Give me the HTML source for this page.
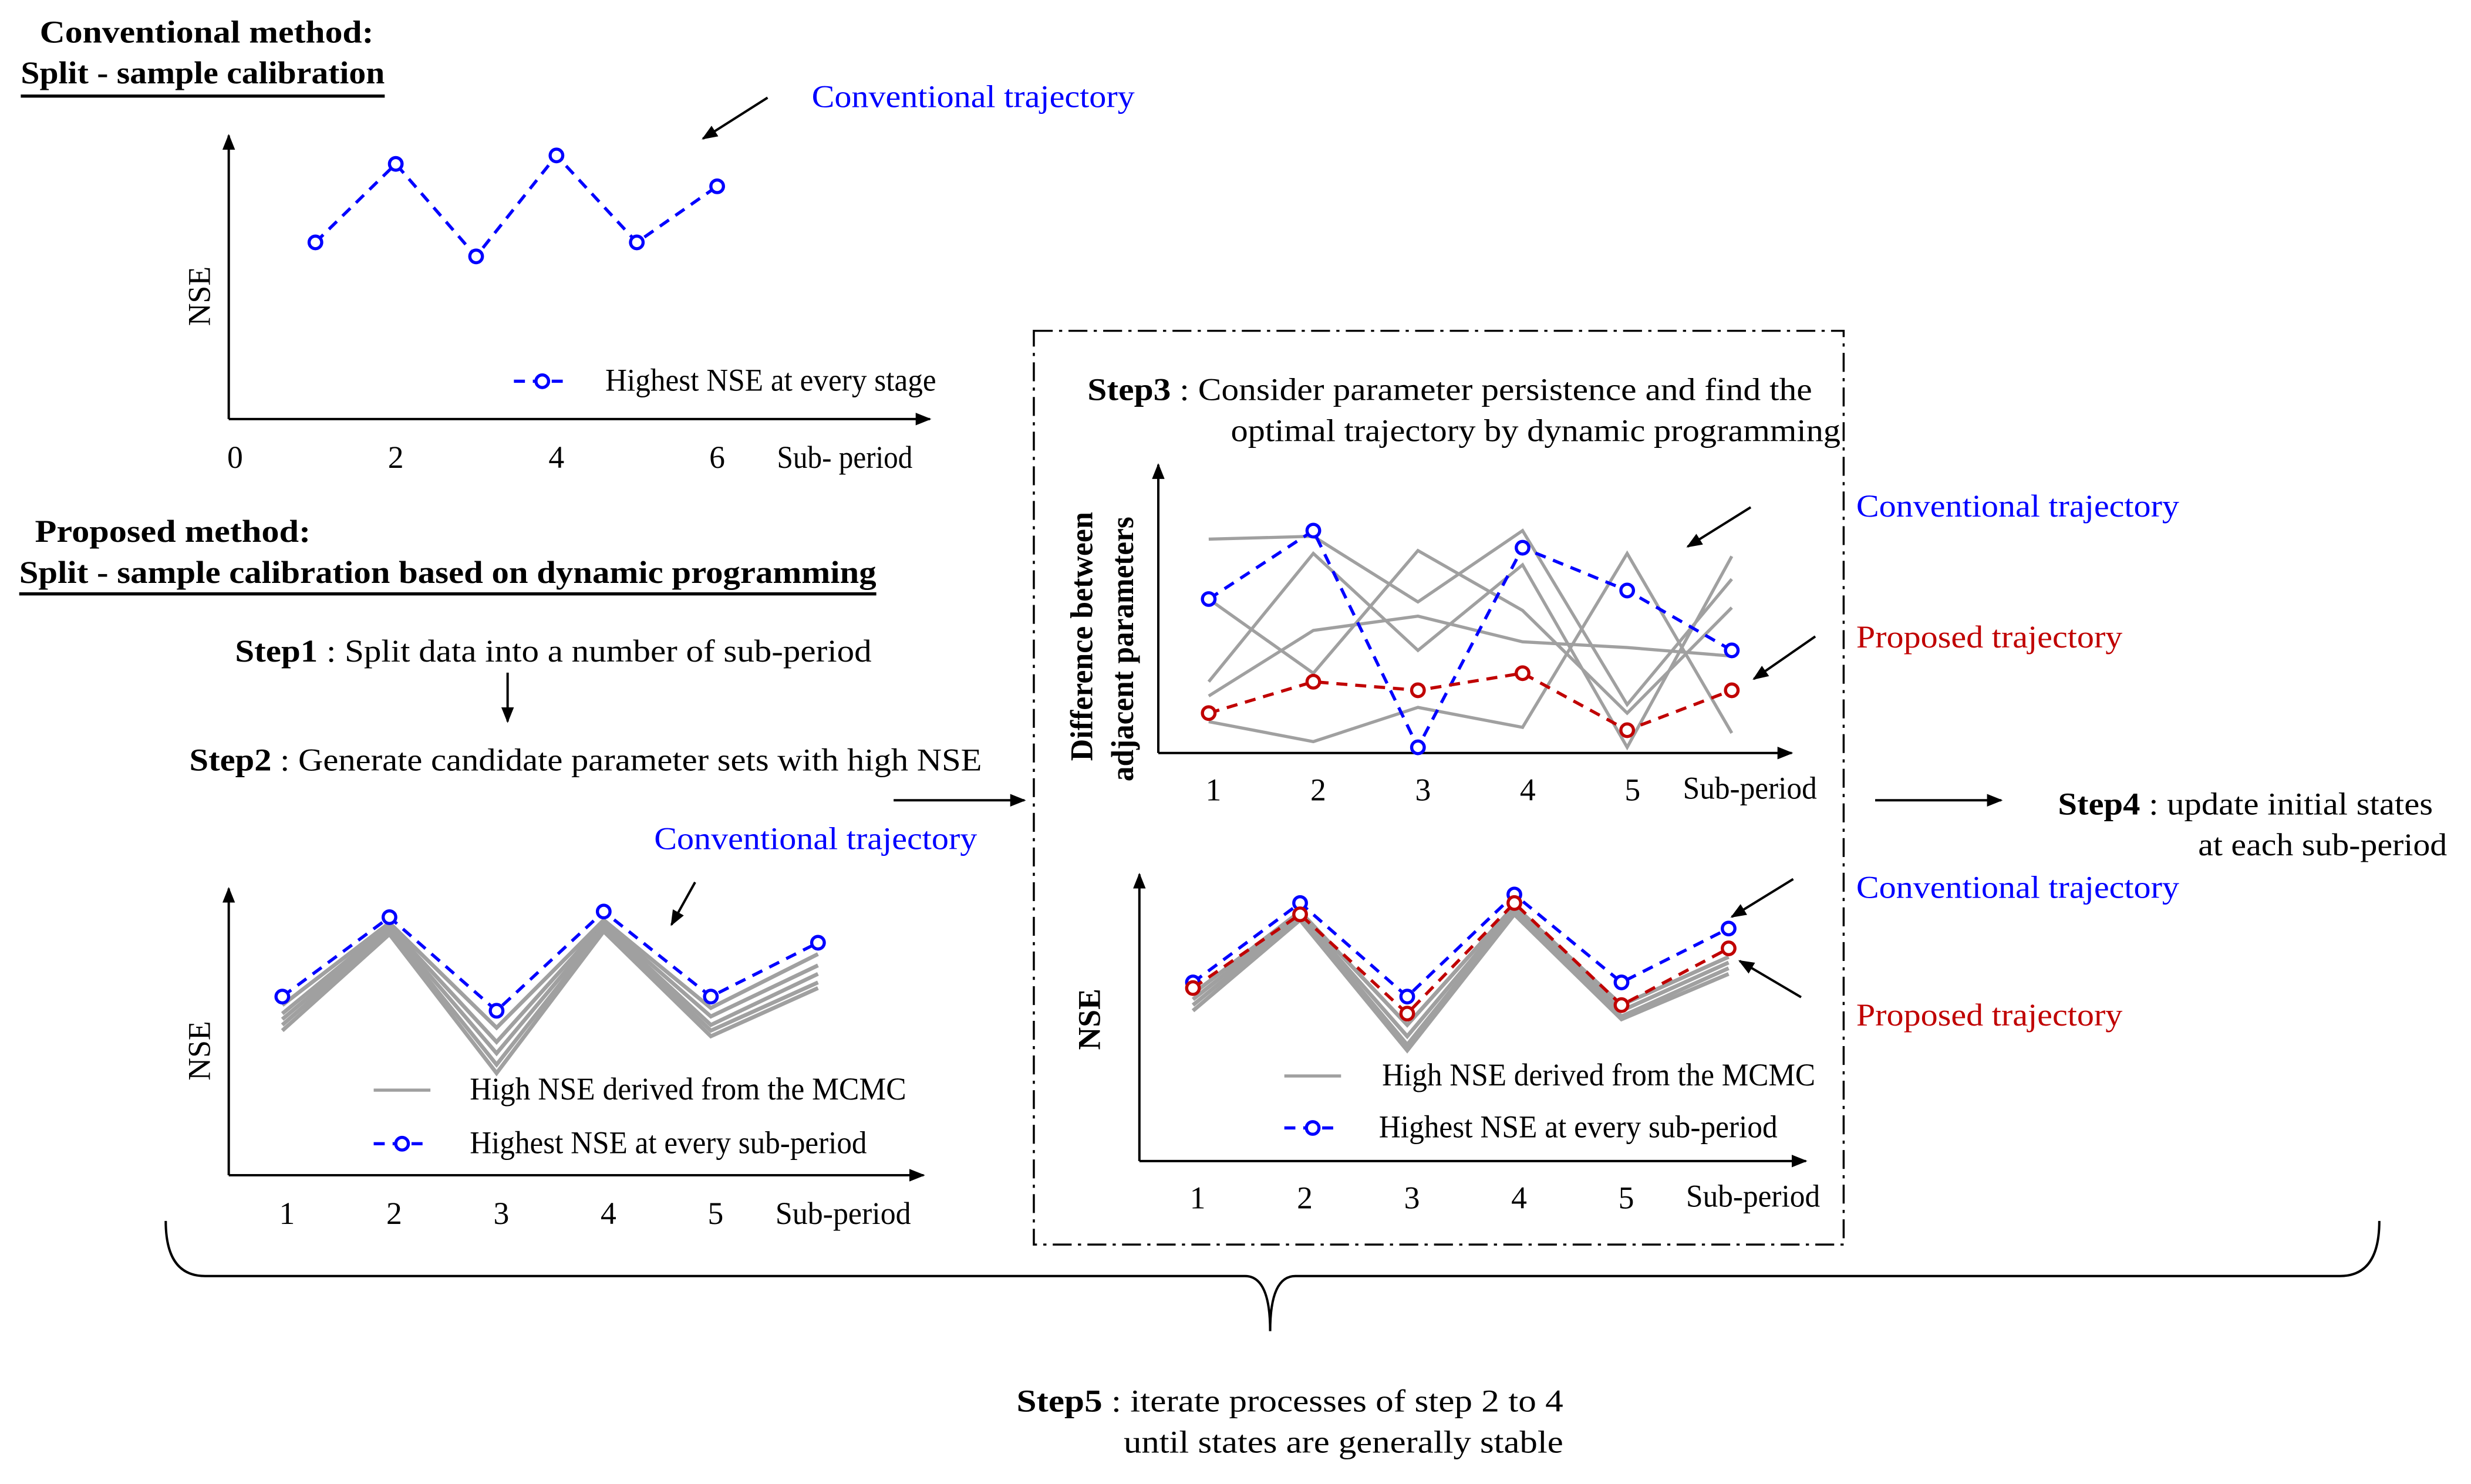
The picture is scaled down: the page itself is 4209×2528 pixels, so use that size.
<!DOCTYPE html>
<html><head><meta charset="utf-8"><style>
html,body{margin:0;padding:0;background:#fff;}
svg{display:block;}
text{font-family:"Liberation Serif",serif;font-size:20px;}
.b{font-weight:bold;}
</style></head><body>
<svg id="fig" width="4209" height="2528" viewBox="0 0 1568 942" xmlns="http://www.w3.org/2000/svg">
<defs>
<marker id="ah" markerWidth="10" markerHeight="8" refX="9" refY="4" orient="auto" markerUnits="userSpaceOnUse"><path d="M0,0 L10,4 L0,8 Z" fill="#000"/></marker>
</defs>
<rect width="1568" height="942" fill="#fff"/>
<text class="b" x="25" y="27" textLength="212" lengthAdjust="spacingAndGlyphs">Conventional  method:</text>
<text class="b" x="13" y="53" textLength="231" lengthAdjust="spacingAndGlyphs">Split - sample calibration</text>
<line x1="13" y1="61" x2="244" y2="61" stroke="#000" stroke-width="2"/>
<text x="515" y="68" fill="#0000ff" textLength="205" lengthAdjust="spacingAndGlyphs">Conventional trajectory</text>
<line x1="487" y1="62" x2="446" y2="88" stroke="#000" stroke-width="1.5" marker-end="url(#ah)"/>
<text class="b" x="22" y="344" textLength="175" lengthAdjust="spacingAndGlyphs">Proposed  method:</text>
<text class="b" x="12" y="370" textLength="544" lengthAdjust="spacingAndGlyphs">Split -  sample calibration based on dynamic programming</text>
<line x1="12" y1="377" x2="556" y2="377" stroke="#000" stroke-width="2"/>
<text x="149" y="420" textLength="404" lengthAdjust="spacingAndGlyphs"><tspan class="b">Step1</tspan>   : Split data into a number of sub-period</text>
<line x1="322" y1="427" x2="322" y2="458" stroke="#000" stroke-width="1.5" marker-end="url(#ah)"/>
<text x="120" y="489" textLength="503" lengthAdjust="spacingAndGlyphs"><tspan class="b">Step2</tspan> : Generate candidate parameter sets with high NSE</text>
<text x="415" y="539" fill="#0000ff" textLength="205" lengthAdjust="spacingAndGlyphs">Conventional trajectory</text>
<line x1="441" y1="560" x2="426" y2="587" stroke="#000" stroke-width="1.5" marker-end="url(#ah)"/>
<line x1="567" y1="508" x2="650" y2="508" stroke="#000" stroke-width="1.5" marker-end="url(#ah)"/>
<rect x="656" y="210" width="514" height="580" fill="none" stroke="#000" stroke-width="1.3" stroke-dasharray="12,4,2,4"/>
<text x="690" y="254" textLength="460" lengthAdjust="spacingAndGlyphs"><tspan class="b">Step3</tspan>  : Consider parameter persistence and find the</text>
<text x="781" y="280" textLength="387" lengthAdjust="spacingAndGlyphs">optimal trajectory by dynamic programming</text>
<text class="b" transform="translate(693,404) rotate(-90)" text-anchor="middle" font-size="18" textLength="158" lengthAdjust="spacingAndGlyphs">Difference between</text>
<text class="b" transform="translate(719,412) rotate(-90)" text-anchor="middle" font-size="18" textLength="168" lengthAdjust="spacingAndGlyphs">adjacent parameters</text>
<line x1="1111" y1="322" x2="1071" y2="347" stroke="#000" stroke-width="1.5" marker-end="url(#ah)"/>
<line x1="1152" y1="404" x2="1113" y2="431" stroke="#000" stroke-width="1.5" marker-end="url(#ah)"/>
<text x="1178" y="328" fill="#0000ff" textLength="205" lengthAdjust="spacingAndGlyphs">Conventional trajectory</text>
<text x="1178" y="411" fill="#c00000" textLength="169" lengthAdjust="spacingAndGlyphs">Proposed trajectory</text>
<line x1="1138" y1="558" x2="1099" y2="582" stroke="#000" stroke-width="1.5" marker-end="url(#ah)"/>
<line x1="1143" y1="633" x2="1104" y2="610" stroke="#000" stroke-width="1.5" marker-end="url(#ah)"/>
<text x="1178" y="570" fill="#0000ff" textLength="205" lengthAdjust="spacingAndGlyphs">Conventional trajectory</text>
<text x="1178" y="651" fill="#c00000" textLength="169" lengthAdjust="spacingAndGlyphs">Proposed trajectory</text>
<line x1="1190" y1="508" x2="1270" y2="508" stroke="#000" stroke-width="1.5" marker-end="url(#ah)"/>
<text x="1306" y="517" textLength="238" lengthAdjust="spacingAndGlyphs"><tspan class="b">Step4</tspan> : update initial states</text>
<text x="1395" y="543" textLength="158" lengthAdjust="spacingAndGlyphs">at each sub-period</text>
<path d="M105,775 Q105,810 130,810 L790,810 Q806,810 806,845 Q806,810 822,810 L1485,810 Q1510,810 1510,775" fill="none" stroke="#000" stroke-width="1.5"/>
<text x="645" y="896" textLength="347" lengthAdjust="spacingAndGlyphs"><tspan class="b">Step5</tspan>    : iterate processes of step 2 to  4</text>
<text x="713" y="922" textLength="279" lengthAdjust="spacingAndGlyphs">until   states are generally stable</text>
<g id="charts"></g>
</svg>
<script>
// Chart A: conventional (top-left)
const aX = [1, 2, 3, 4, 5, 6];
const aBlue = [0.63, 0.91, 0.58, 0.94, 0.63, 0.83];
const aTicks = ["0", "2", "4", "6"];
const aTickVals = [0, 2, 4, 6];
// Chart B: proposed candidates (bottom-left)
const bX = [1, 2, 3, 4, 5, 6];
const bTicks = ["1", "2", "3", "4", "5"];
const bBlue = [0.63, 0.91, 0.58, 0.93, 0.63, 0.82];
const bGray1 = [0.60, 0.89, 0.52, 0.90, 0.59, 0.78];
const bGray2 = [0.57, 0.88, 0.47, 0.89, 0.56, 0.74];
const bGray3 = [0.55, 0.87, 0.43, 0.88, 0.53, 0.71];
const bGray4 = [0.53, 0.86, 0.39, 0.87, 0.51, 0.68];
const bGray5 = [0.51, 0.85, 0.36, 0.86, 0.49, 0.66];
// Chart C: differences (middle)
const cX = [1, 2, 3, 4, 5, 6];
const cTicks = ["1", "2", "3", "4", "5"];
const cBlue = [0.54, 0.78, 0.02, 0.72, 0.57, 0.36];
const cRed = [0.14, 0.25, 0.22, 0.28, 0.08, 0.22];
const cGray1 = [0.75, 0.76, 0.53, 0.78, 0.17, 0.61];
const cGray2 = [0.54, 0.28, 0.71, 0.50, 0.14, 0.51];
const cGray3 = [0.25, 0.70, 0.36, 0.66, 0.02, 0.69];
const cGray4 = [0.20, 0.43, 0.48, 0.39, 0.37, 0.34];
const cGray5 = [0.11, 0.04, 0.16, 0.09, 0.70, 0.07];
// Chart D: NSE comparison (bottom-middle)
const dX = [1, 2, 3, 4, 5, 6];
const dTicks = ["1", "2", "3", "4", "5"];
const dBlue = [0.63, 0.91, 0.58, 0.94, 0.63, 0.82];
const dRed = [0.61, 0.87, 0.52, 0.91, 0.55, 0.75];
const dGray1 = [0.59, 0.88, 0.48, 0.90, 0.55, 0.72];
const dGray2 = [0.57, 0.87, 0.44, 0.89, 0.53, 0.70];
const dGray3 = [0.55, 0.86, 0.41, 0.88, 0.51, 0.68];
const dGray4 = [0.53, 0.85, 0.39, 0.87, 0.50, 0.66];

const NS = "http://www.w3.org/2000/svg";
const root = document.getElementById("charts");
function mk(tag, attrs, parent) {
  const e = document.createElementNS(NS, tag);
  for (const k in attrs) e.setAttribute(k, attrs[k]);
  (parent || root).appendChild(e);
  return e;
}
function axes(ox, oy, top, right, g) {
  mk("line", {x1: ox, y1: oy, x2: ox, y2: top, stroke: "#000", "stroke-width": 1.5, "marker-end": "url(#ah)"}, g);
  mk("line", {x1: ox, y1: oy, x2: right, y2: oy, stroke: "#000", "stroke-width": 1.5, "marker-end": "url(#ah)"}, g);
}
function series(xs, vals, sx, sy, color, dashed, markers, g, name, width) {
  const pts = xs.map((x, i) => sx(x) + "," + sy(vals[i])).join(" ");
  const pl = mk("polyline", {points: pts, fill: "none", stroke: color, "stroke-width": width || 2, "stroke-dasharray": dashed ? "7,5" : "none"}, g);
  
  
  if (markers) xs.forEach((x, i) => {
    const c = mk("circle", {cx: sx(x), cy: sy(vals[i]), r: 4, fill: "#fff", stroke: color, "stroke-width": 2}, g);
    
    
  });
}
function label(x, y, txt, g, extra) {
  const t = mk("text", Object.assign({x: x, y: y}, extra || {}), g);
  t.textContent = txt;
  return t;
}
function fit(w) { return {textLength: w, lengthAdjust: "spacingAndGlyphs"}; }
function legendEntry(x, y, color, dashed, marker, txt, tx, w, g, name) {
  const grp = mk("g", {}, g);
  
  
  mk("line", {x1: x, y1: y, x2: x + 36, y2: y, stroke: color, "stroke-width": 2, "stroke-dasharray": dashed ? "7,5" : "none"}, grp);
  if (marker) mk("circle", {cx: x + 18, cy: y, r: 4, fill: "#fff", stroke: color, "stroke-width": 2}, grp);
  label(tx, y + 6, txt, grp, fit(w));
}

// Chart A
{
  const g = mk("g", {});  
  const sx = v => 149 + v * 51, sy = v => 266 - v * 178;
  axes(145, 266, 86, 590, g);
  aTickVals.forEach((v, i) => { const t = label(sx(v), 297, aTicks[i], g, {"text-anchor": "middle"});   });
  label(493, 297, "Sub- period", g, fit(86));
  label(0, 0, "NSE", g, {transform: "translate(133,188) rotate(-90)", "text-anchor": "middle", "font-size": 17});
  series(aX, aBlue, sx, sy, "#0000ff", true, true, g, "highest-nse-line");
  legendEntry(326, 242, "#0000ff", true, true, "Highest NSE at every stage", 384, 210, g, "legend-highest-nse");
}
// Chart B
{
  const g = mk("g", {});  
  const sx = v => 179 + (v - 1) * 68, sy = v => 746 - v * 180;
  axes(145, 746, 564, 586, g);
  bTicks.forEach((t, i) => { const e = label(182 + i * 68, 777, t, g, {"text-anchor": "middle"});   });
  label(492, 777, "Sub-period", g, fit(86));
  label(0, 0, "NSE", g, {transform: "translate(133,667) rotate(-90)", "text-anchor": "middle", "font-size": 17});
  [bGray1, bGray2, bGray3, bGray4, bGray5].forEach(s => series(bX, s, sx, sy, "#a0a0a0", false, false, g, "mcmc-line", 2.5));
  series(bX, bBlue, sx, sy, "#0000ff", true, true, g, "highest-nse-line");
  legendEntry(237, 692, "#a0a0a0", false, false, "High NSE derived from the MCMC", 298, 277, g, "legend-mcmc");
  legendEntry(237, 726, "#0000ff", true, true, "Highest NSE at every sub-period", 298, 252, g, "legend-highest-nse");
}
// Chart C
{
  const g = mk("g", {});  
  const sx = v => 767 + (v - 1) * 66.4, sy = v => 478 - v * 181;
  axes(735, 478, 295, 1137, g);
  cTicks.forEach((t, i) => { const e = label(770 + i * 66.5, 508, t, g, {"text-anchor": "middle"});   });
  label(1068, 507, "Sub-period", g, fit(85));
  [cGray1, cGray2, cGray3, cGray4, cGray5].forEach(s => series(cX, s, sx, sy, "#a0a0a0", false, false, g, "candidate-line", 2));
  series(cX, cBlue, sx, sy, "#0000ff", true, true, g, "conventional-trajectory-line");
  series(cX, cRed, sx, sy, "#c00000", true, true, g, "proposed-trajectory-line");
}
// Chart D
{
  const g = mk("g", {});  
  const sx = v => 757 + (v - 1) * 68, sy = v => 737 - v * 180;
  axes(723, 737, 555, 1146, g);
  dTicks.forEach((t, i) => { const e = label(760 + i * 68, 767, t, g, {"text-anchor": "middle"});   });
  label(1070, 766, "Sub-period", g, fit(85));
  label(0, 0, "NSE", g, {transform: "translate(698,647) rotate(-90)", "text-anchor": "middle", "font-size": 17, "font-weight": "bold"});
  [dGray1, dGray2, dGray3, dGray4].forEach(s => series(dX, s, sx, sy, "#a0a0a0", false, false, g, "mcmc-line", 2.5));
  series(dX, dBlue, sx, sy, "#0000ff", true, true, g, "conventional-trajectory-line");
  series(dX, dRed, sx, sy, "#c00000", true, true, g, "proposed-trajectory-line");
  legendEntry(815, 683, "#a0a0a0", false, false, "High NSE derived from the MCMC", 877, 275, g, "legend-mcmc");
  legendEntry(815, 716, "#0000ff", true, true, "Highest NSE at every sub-period", 875, 253, g, "legend-highest-nse");
}
</script>
</body></html>
